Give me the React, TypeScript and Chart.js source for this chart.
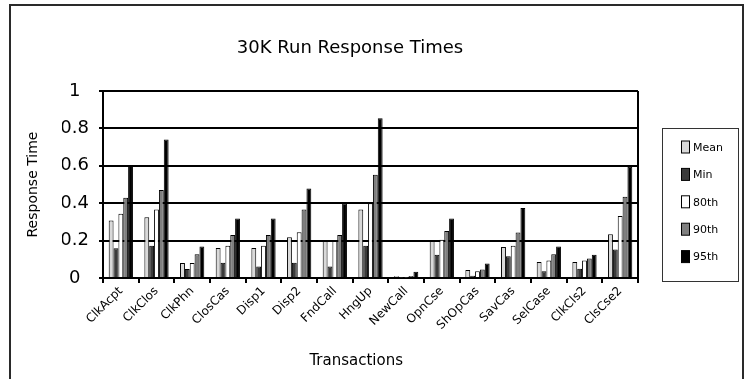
import React, { useEffect, useRef } from "react";
import { Chart, registerables } from "chart.js";

Chart.register(...registerables);

const categories = [
  "ClkAcpt", "ClkClos", "ClkPhn", "ClosCas", "Disp1", "Disp2", "FndCall", "HngUp",
  "NewCall", "OpnCse", "ShOpCas", "SavCas", "SelCase", "ClkCls2", "ClsCse2",
];
const seriesNames = ["Mean", "Min", "80th", "90th", "95th"];
const meanValues = [0.307, 0.325, 0.08, 0.161, 0.161, 0.218, 0.198, 0.366, 0.01, 0.198, 0.043, 0.166, 0.086, 0.086, 0.234];
const minValues = [0.159, 0.173, 0.048, 0.082, 0.061, 0.082, 0.061, 0.173, 0.001, 0.125, 0.012, 0.116, 0.036, 0.05, 0.152];
const p80Values = [0.343, 0.366, 0.08, 0.173, 0.173, 0.245, 0.198, 0.4, 0.003, 0.205, 0.036, 0.173, 0.093, 0.093, 0.332];
const p90Values = [0.429, 0.47, 0.127, 0.23, 0.23, 0.366, 0.23, 0.552, 0.011, 0.252, 0.046, 0.243, 0.127, 0.104, 0.434];
const p95Values = [0.6, 0.741, 0.168, 0.318, 0.318, 0.479, 0.398, 0.854, 0.034, 0.318, 0.077, 0.375, 0.168, 0.125, 0.595];
const seriesColors = ["#d9d9d9", "#3a3a3a", "#ffffff", "#7f7f7f", "#000000"];
const yTickValues = [0, 0.2, 0.4, 0.6, 0.8, 1];
const yTickLabels = ["0", "0.2", "0.4", "0.6", "0.8", "1"];

const FONT = "'DejaVu Sans', sans-serif";

const plotBorder = {
  id: "plotBorder",
  afterDatasetsDraw(chart: any) {
    const { ctx, chartArea } = chart;
    ctx.save();
    ctx.strokeStyle = "#000";
    ctx.lineWidth = 2;
    ctx.beginPath();
    ctx.moveTo(chartArea.right, chartArea.top);
    ctx.lineTo(chartArea.right, chartArea.bottom);
    ctx.stroke();
    ctx.restore();
  },
};

const boxedLegend = {
  id: "boxedLegend",
  afterDraw(chart: any) {
    const { ctx, chartArea } = chart;
    const left = chartArea.right + 24.5;
    const top = 128.5;
    const w = 76;
    const h = 153;
    ctx.save();
    ctx.strokeStyle = "#333";
    ctx.lineWidth = 1;
    ctx.strokeRect(left, top, w, h);
    ctx.font = `11px ${FONT}`;
    ctx.textBaseline = "middle";
    ctx.textAlign = "left";
    chart.data.datasets.forEach((ds: any, i: number) => {
      const cy = 147 + i * 27.4;
      ctx.fillStyle = ds.backgroundColor;
      ctx.fillRect(left + 19, cy - 6, 8, 12);
      ctx.strokeStyle = "#000";
      ctx.strokeRect(left + 19, cy - 6, 8, 12);
      ctx.fillStyle = "#000";
      ctx.fillText(ds.label, left + 30.5, cy + 1);
    });
    ctx.restore();
  },
};

export default function App() {
  const canvasRef = useRef<HTMLCanvasElement | null>(null);

  useEffect(() => {
    const canvas = canvasRef.current;
    if (!canvas) return;
    const values = [meanValues, minValues, p80Values, p90Values, p95Values];
    const chart = new Chart(canvas, {
      type: "bar",
      data: {
        labels: categories,
        datasets: seriesNames.map((name, i) => ({
          label: name,
          data: values[i],
          backgroundColor: seriesColors[i],
          borderColor: "#000",
          borderWidth: 1,
          barPercentage: 1,
          categoryPercentage: 0.68,
        })),
      },
      options: {
        responsive: false,
        animation: false,
        devicePixelRatio: 1,
        layout: { padding: { left: 62, right: 117, top: 0, bottom: 0 } },
        plugins: {
          legend: { display: false },
          tooltip: { enabled: false },
          title: {
            display: true,
            text: "30K Run Response Times",
            color: "#000",
            fullSize: true,
            font: { family: FONT, size: 18, weight: "normal" },
            padding: { top: 37.5, bottom: 31.9 },
          },
        },
        scales: {
          x: {
            grid: {
              display: true,
              drawOnChartArea: false,
              drawTicks: true,
              tickLength: 5,
              color: "#000",
              lineWidth: 2,
              offset: true,
            },
            border: { display: true, color: "#000", width: 2 },
            ticks: {
              color: "#000",
              font: { family: FONT, size: 12 },
              maxRotation: 45,
              minRotation: 45,
              autoSkip: false,
              padding: 1,
            },
            title: {
              display: true,
              text: "Transactions      ",
              color: "#000",
              font: { family: FONT, size: 15 },
              padding: { top: 0, bottom: 9 },
            },
            afterFit: (s: any) => {
              s.height = 101;
            },
          },
          y: {
            min: 0,
            max: 1,
            afterBuildTicks: (s: any) => {
              s.ticks = yTickValues.map((v) => ({ value: v }));
            },
            ticks: {
              color: "#000",
              font: { family: FONT, size: 18 },
              padding: 10,
              crossAlign: "center",
              callback: (v: any) => {
                const idx = yTickValues.findIndex((t) => Math.abs(t - Number(v)) < 1e-6);
                return idx >= 0 ? yTickLabels[idx] : "";
              },
            },
            grid: { color: "#000", lineWidth: 2, tickLength: 4 },
            border: { display: true, color: "#000", width: 2 },
            title: {
              display: true,
              text: "Response Time",
              color: "#000",
              font: { family: FONT, size: 14 },
              padding: { top: -37.4, bottom: 0 },
            },
            afterFit: (s: any) => {
              s.width = 41;
            },
          },
        },
      },
      plugins: [plotBorder, boxedLegend],
    });
    return () => chart.destroy();
  }, []);

  return (
    <div
      style={{
        position: "fixed",
        left: 0,
        top: 0,
        width: 755,
        height: 379,
        overflow: "hidden",
        background: "#fff",
      }}
    >
      <div
        style={{
          position: "absolute",
          left: 9,
          top: 4,
          width: 731,
          height: 420,
          border: "2px solid #2a2a2a",
        }}
      />
      <canvas
        ref={canvasRef}
        width={755}
        height={379}
        style={{ position: "absolute", left: 0, top: 0, width: 755, height: 379 }}
      />
    </div>
  );
}
